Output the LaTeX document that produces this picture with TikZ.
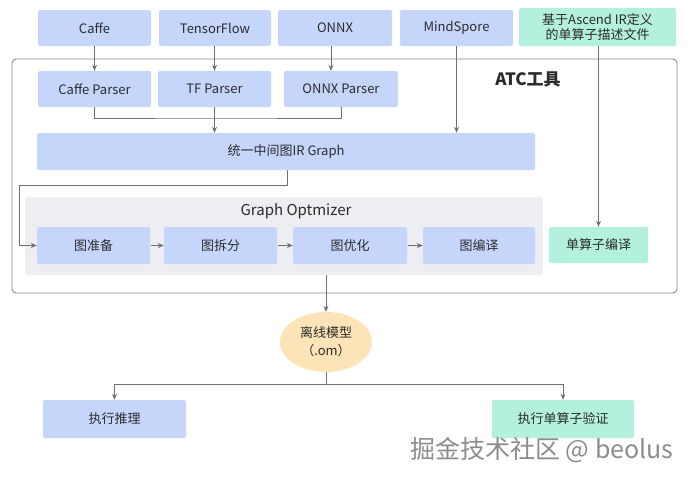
\documentclass[tikz,border=0pt]{standalone}
\usepackage{fontspec}
\setmainfont{Noto Sans CJK SC}
\usetikzlibrary{arrows.meta,shapes.geometric}
\definecolor{blu}{HTML}{C6D6FB}
\definecolor{grn}{HTML}{B3F0DE}
\definecolor{pch}{HTML}{FCE3B8}
\definecolor{optbg}{HTML}{EDEEF1}
\definecolor{ln}{HTML}{707070}
\definecolor{txt}{HTML}{2B2B2B}
\tikzset{
  bx/.style={rectangle, rounded corners=2pt, inner sep=0pt, text=txt, font=\fontsize{13}{16}\selectfont, align=center},
  bbox/.style={bx, fill=blu},
  gbox/.style={bx, fill=grn},
  conn/.style={draw=ln, line width=0.9pt},
  arr/.style={conn, -{Stealth[length=6pt,width=5pt]}},
}
\begin{document}
\begin{tikzpicture}[x=1pt,y=-1pt]
\useasboundingbox (0,0) rectangle (691,480);
% outer ATC frame
\draw[draw=ln!85, line width=0.9pt, rounded corners=4pt] (12,59) rectangle (677,293);
\node[font=\bfseries\fontsize{17}{20}\selectfont, text=txt] (atc) at (528,79) {ATC工具};
% optimizer background
\node[rectangle, rounded corners=3pt, fill=optbg, minimum width=518pt, minimum height=78pt, inner sep=0pt] (opt) at (284,236) {};
\node[font=\fontsize{15}{18}\selectfont, text=txt] (optl) at (296,211) {Graph Optmizer};
% top inputs
\node[bbox, minimum width=113pt, minimum height=36pt] (caffe) at (94.5,28) {Caffe};
\node[bbox, minimum width=112pt, minimum height=36pt] (tf) at (215,28) {TensorFlow};
\node[bbox, minimum width=114pt, minimum height=36pt] (onnx) at (335,28) {ONNX};
\node[bbox, minimum width=113pt, minimum height=36pt] (ms) at (456.5,28) {MindSpore};
\node[gbox, minimum width=157pt, minimum height=38pt] (asc) at (597.5,27) {基于Ascend IR定义\\[-1pt]的单算子描述文件};
% parsers
\node[bbox, minimum width=113pt, minimum height=36pt] (cp) at (94.5,89) {Caffe Parser};
\node[bbox, minimum width=113pt, minimum height=36pt] (tp) at (214.5,89) {TF Parser};
\node[bbox, minimum width=114pt, minimum height=36pt] (op) at (341,89) {ONNX Parser};
% IR graph
\node[bbox, minimum width=498pt, minimum height=37pt] (ir) at (286,151.5) {统一中间图IR Graph};
% optimizer steps
\node[bbox, minimum width=113pt, minimum height=37pt] (s1) at (93.5,245.5) {图准备};
\node[bbox, minimum width=113pt, minimum height=37pt] (s2) at (220.5,245.5) {图拆分};
\node[bbox, minimum width=114pt, minimum height=37pt] (s3) at (350,245.5) {图优化};
\node[bbox, minimum width=112pt, minimum height=37pt] (s4) at (479,245.5) {图编译};
\node[gbox, minimum width=99pt, minimum height=36pt] (sop) at (598.5,245) {单算子编译};
% offline model
\node[ellipse, fill=pch, minimum width=92pt, minimum height=60pt, inner sep=0pt, text=txt, font=\fontsize{13}{18}\selectfont, align=center] (om) at (326,342) {离线模型\\（.om）};
% outputs
\node[bbox, minimum width=143pt, minimum height=38pt] (inf) at (114.5,419) {执行推理};
\node[gbox, minimum width=142pt, minimum height=38pt] (ver) at (563,419) {执行单算子验证};
% watermark
\node[text=black!45, font=\fontsize{25}{28}\selectfont] (wm) at (542,450) {掘金技术社区 @ beolus};
% connectors
\draw[arr] (caffe.south) -- (cp.north);
\draw[arr] (tf.south -| tp.north) -- (tp.north);
\draw[arr] ([xshift=-4pt]onnx.south) -- ([xshift=-4pt]onnx.south |- op.north);
\coordinate (mj) at (214.5,118);
\draw[conn] (cp.south) |- (mj) -| (op.south);
\draw[arr] (tp.south) -- (tp.south |- ir.north);
\draw[arr] (ms.south) -- (ms.south |- ir.north);
\draw[arr] (asc.south -| sop.north) -- (sop.north);
\coordinate (irx) at (287,185);
\coordinate (irl) at (19,185);
\draw[arr] (irx |- ir.south) -- (irx) -- (irl) |- (s1.west);
\draw[arr] ([xshift=1pt]s1.east) -- (s2.west);
\draw[arr] ([xshift=1pt]s2.east) -- (s3.west);
\draw[arr] ([xshift=1pt]s3.east) -- (s4.west);
\draw[arr] (om.north |- opt.south) -- (om.north);
\coordinate (bj) at (326,384);
\draw[conn] (om.south) -- (bj);
\draw[arr] (bj) -| (inf.north);
\draw[arr] (bj) -| (ver.north);
\end{tikzpicture}
\end{document}
